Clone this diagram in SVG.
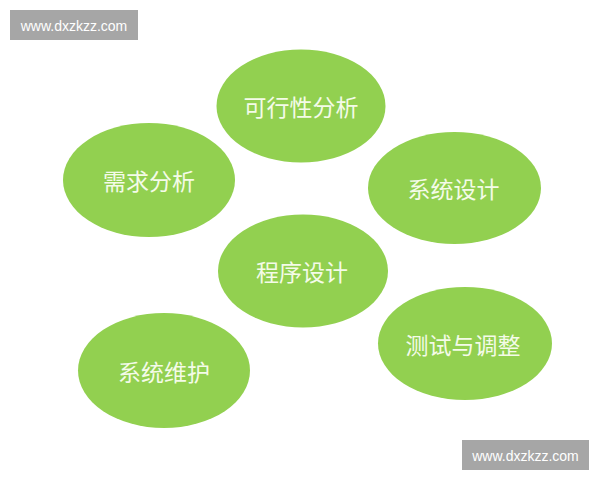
<svg xmlns="http://www.w3.org/2000/svg" width="600" height="480" viewBox="0 0 600 480">
<style>
.node ellipse{fill:#92d050;}
.node text{fill:#f4fbe8;font-family:"Noto Sans CJK SC","Noto Sans",sans-serif;font-size:23px;text-anchor:middle;dominant-baseline:central;}
.wm rect{fill:#a6a6a6;}
.wm text{fill:#ffffff;font-family:"Liberation Sans","DejaVu Sans",sans-serif;font-size:14px;text-anchor:middle;dominant-baseline:central;}
</style>
<rect width="600" height="480" fill="#ffffff"/>
<g id="watermark-top" class="wm"><rect x="10" y="10" width="128" height="30"/><text x="74" y="25.5">www.dxzkzz.com</text></g>
<g id="watermark-bottom" class="wm"><rect x="462" y="440" width="127" height="30"/><text x="525.5" y="455.5">www.dxzkzz.com</text></g>
<g id="connectors"></g>
<g id="n-kexingxing" class="node"><ellipse cx="301" cy="106" rx="84.5" ry="56.5"/><text x="301" y="106">可行性分析</text></g>
<g id="n-xuqiu" class="node"><ellipse cx="149" cy="180" rx="86" ry="57"/><text x="149" y="180">需求分析</text></g>
<g id="n-xitongsheji" class="node"><ellipse cx="454.5" cy="188" rx="86.5" ry="56"/><text x="453.5" y="188">系统设计</text></g>
<g id="n-chengxu" class="node"><ellipse cx="303" cy="271" rx="85" ry="56.5"/><text x="302" y="271">程序设计</text></g>
<g id="n-ceshi" class="node"><ellipse cx="465" cy="343.5" rx="87" ry="56.5"/><text x="463" y="344">测试与调整</text></g>
<g id="n-weihu" class="node"><ellipse cx="164" cy="370.5" rx="86" ry="57.5"/><text x="164" y="371">系统维护</text></g>
</svg>
